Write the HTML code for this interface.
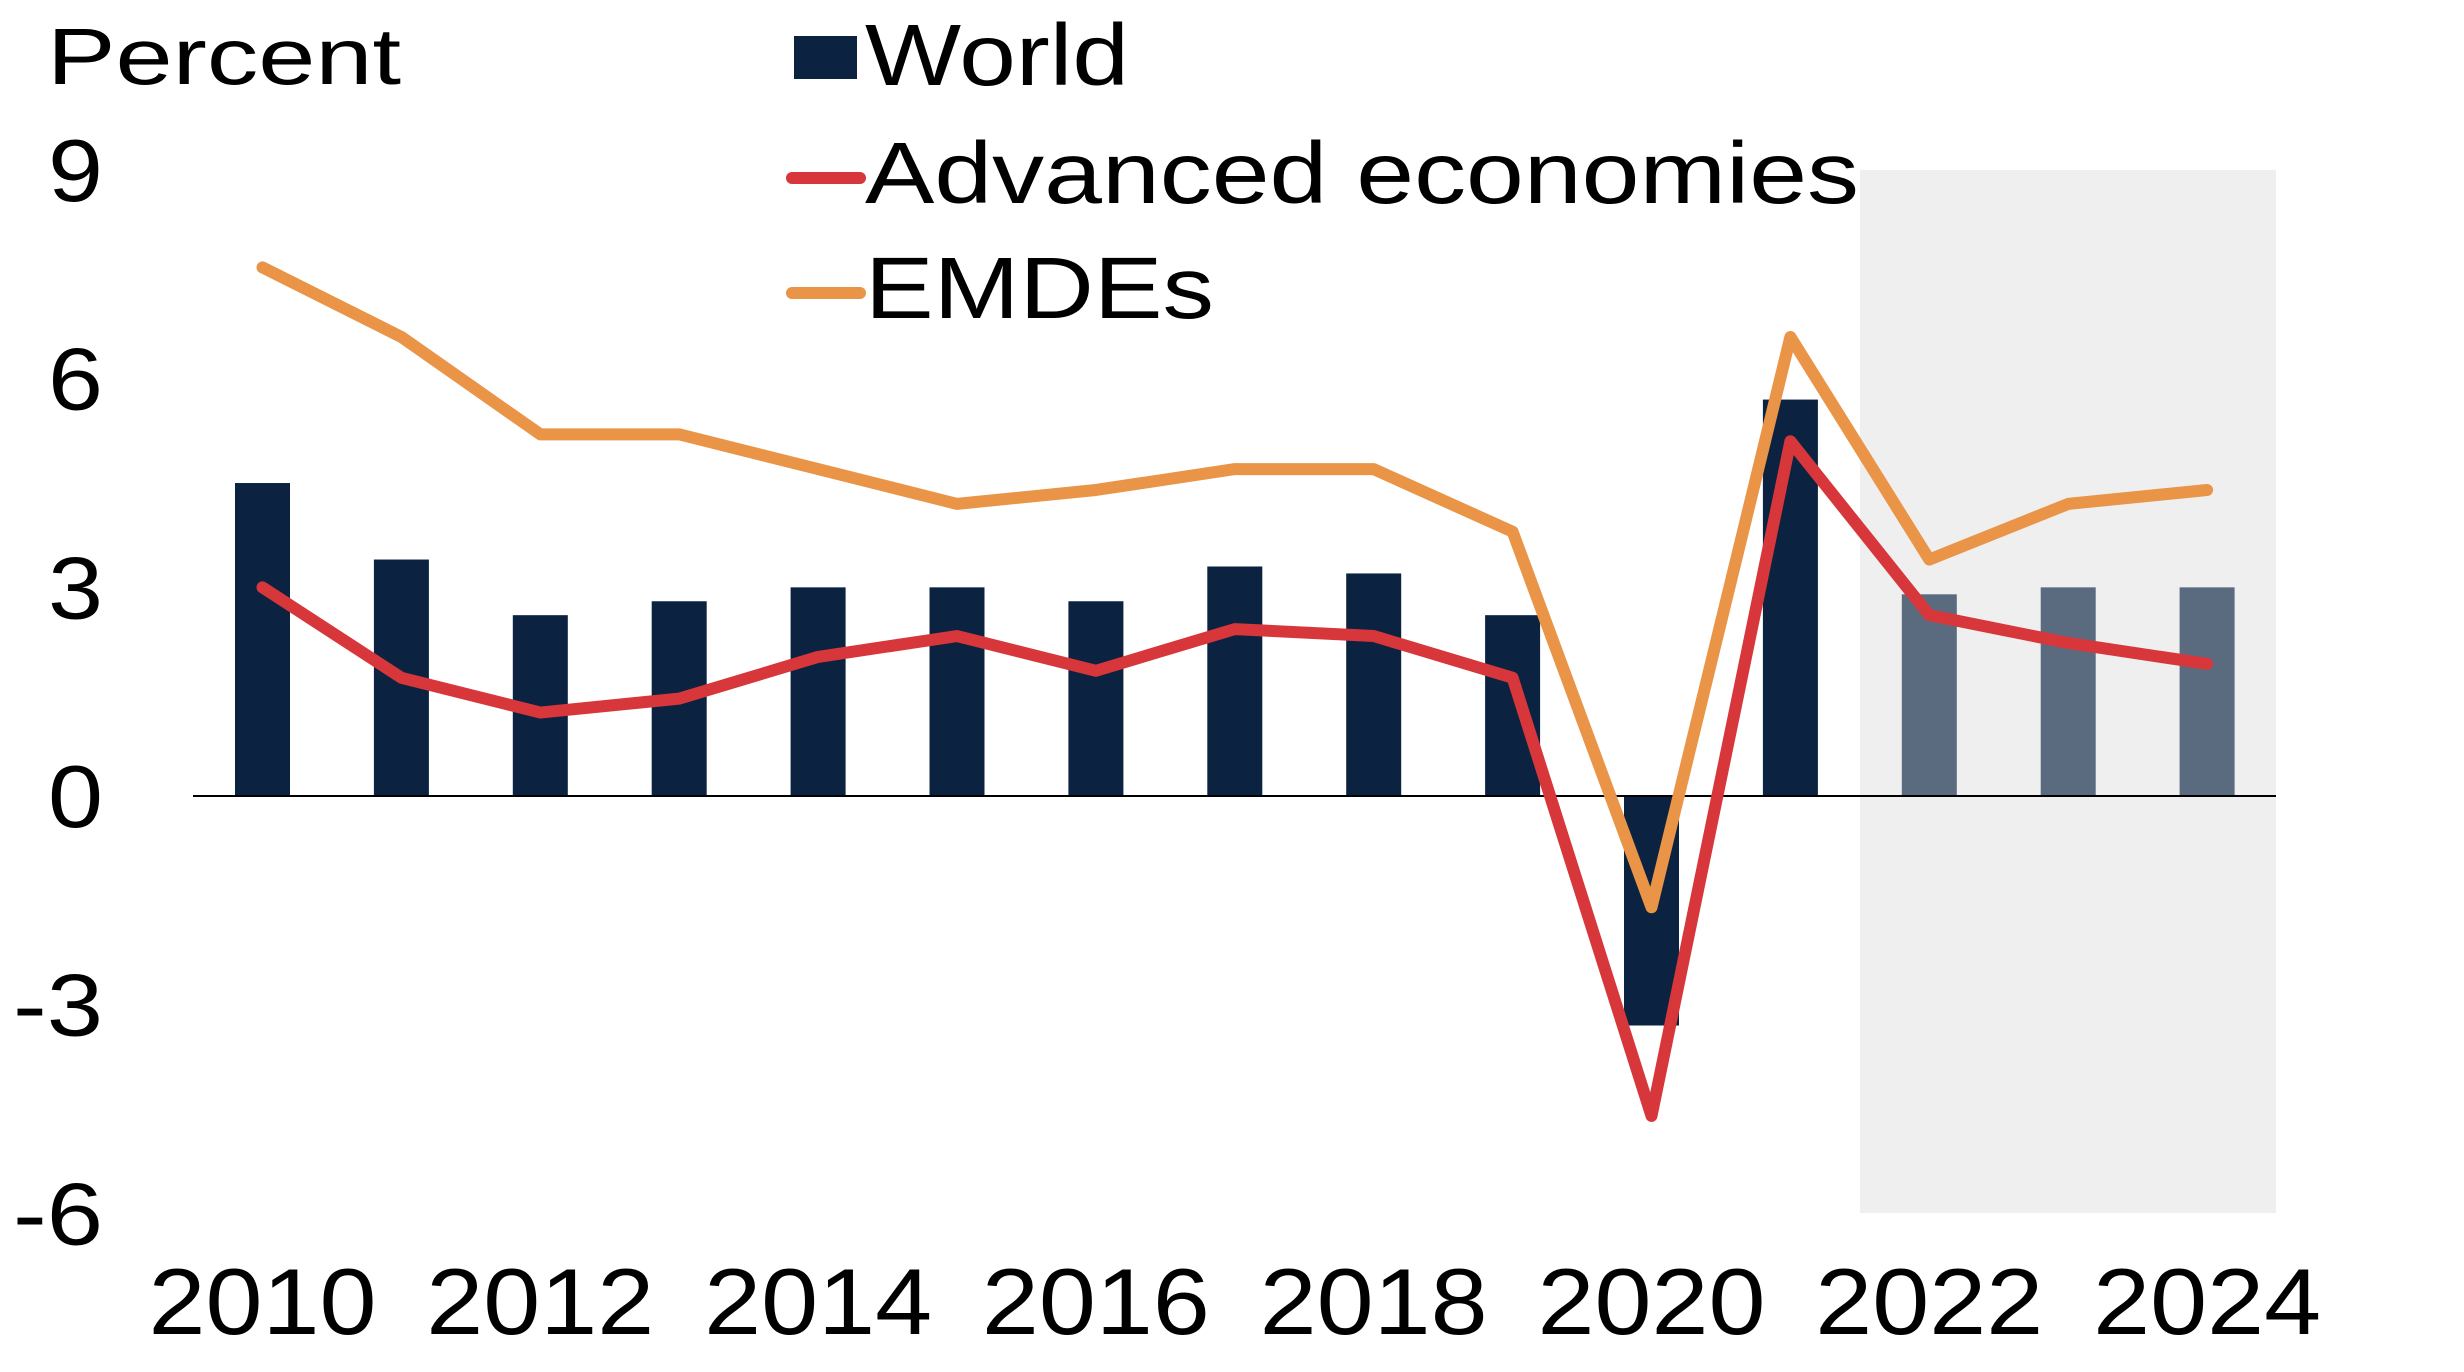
<!DOCTYPE html>
<html><head><meta charset="utf-8"><style>
html,body{margin:0;padding:0;background:#fff;}
svg{display:block;font-family:"Liberation Sans",Arial,sans-serif;}
</style></head><body>
<svg id="chart" width="2464" height="1372" viewBox="0 0 2464 1372" xmlns="http://www.w3.org/2000/svg">
<rect x="1860" y="170" width="416" height="1043" fill="#efefef"/>
<g id="bars"></g>
<line x1="193" x2="2276" y1="796" y2="796" stroke="#000" stroke-width="2"/>
<g id="lines"></g>
<g id="yticks"></g>
<g id="xticks"></g>
<text x="47" y="84" font-size="80" textLength="354" lengthAdjust="spacingAndGlyphs">Percent</text>
<g>
<rect x="794" y="36" width="63" height="43" fill="#0b2341"/>
<text x="865" y="85" font-size="87" textLength="264" lengthAdjust="spacingAndGlyphs">World</text>
<line x1="792" x2="860" y1="178" y2="178" stroke="#d7373a" stroke-width="12" stroke-linecap="round"/>
<text x="865" y="203" font-size="87" textLength="994" lengthAdjust="spacingAndGlyphs">Advanced economies</text>
<line x1="792" x2="860" y1="293" y2="293" stroke="#e99446" stroke-width="12" stroke-linecap="round"/>
<text x="865" y="318" font-size="87" textLength="349" lengthAdjust="spacingAndGlyphs">EMDEs</text>
</g>
</svg>
<script>
const years = [2010,2011,2012,2013,2014,2015,2016,2017,2018,2019,2020,2021,2022,2023,2024];
const world = [4.5,3.4,2.6,2.8,3.0,3.0,2.8,3.3,3.2,2.6,-3.3,5.7,2.9,3.0,3.0];
const advanced = [3.0,1.7,1.2,1.4,2.0,2.3,1.8,2.4,2.3,1.7,-4.6,5.1,2.6,2.2,1.9];
const emdes = [7.6,6.6,5.2,5.2,4.7,4.2,4.4,4.7,4.7,3.8,-1.6,6.6,3.4,4.2,4.4];
const yTicks = [9,6,3,0,-3,-6];
const xTickLabels = ["2010","2012","2014","2016","2018","2020","2022","2024"];
const forecastStart = 2022;

const NS = "http://www.w3.org/2000/svg";
const x = yr => 262.5 + (yr - 2010) * 138.9;
const y = v => 796 - v * 69.55;

const gb = document.getElementById('bars');
world.forEach((v, i) => {
  const r = document.createElementNS(NS, 'rect');
  r.setAttribute('x', x(years[i]) - 27.5);
  r.setAttribute('width', 55);
  r.setAttribute('y', Math.min(y(v), y(0)));
  r.setAttribute('height', Math.abs(y(v) - y(0)));
  r.setAttribute('fill', years[i] >= forecastStart ? '#5a6b80' : '#0b2341');
  
  
  gb.appendChild(r);
});

const gl = document.getElementById('lines');
[[emdes, '#e99446', 'line-emdes'], [advanced, '#d7373a', 'line-advanced']].forEach(([arr, col, nm]) => {
  const p = document.createElementNS(NS, 'polyline');
  p.setAttribute('points', arr.map((v, i) => x(years[i]) + ',' + y(v)).join(' '));
  p.setAttribute('fill', 'none');
  p.setAttribute('stroke', col);
  p.setAttribute('stroke-width', 12);
  p.setAttribute('stroke-linejoin', 'round');
  p.setAttribute('stroke-linecap', 'round');
  
  
  gl.appendChild(p);
});

const gy = document.getElementById('yticks');
yTicks.forEach(t => {
  const tx = document.createElementNS(NS, 'text');
  tx.setAttribute('x', 103);
  tx.setAttribute('y', y(t) + 31);
  tx.setAttribute('text-anchor', 'end');
  tx.setAttribute('font-size', 88);
  tx.setAttribute('textLength', t < 0 ? 90 : 55);
  tx.setAttribute('lengthAdjust', 'spacingAndGlyphs');
  tx.textContent = t;
  
  
  gy.appendChild(tx);
});

const gx = document.getElementById('xticks');
xTickLabels.forEach(l => {
  const tx = document.createElementNS(NS, 'text');
  tx.setAttribute('x', x(+l));
  tx.setAttribute('y', 1334);
  tx.setAttribute('text-anchor', 'middle');
  tx.setAttribute('font-size', 94);
  tx.setAttribute('textLength', 228);
  tx.setAttribute('lengthAdjust', 'spacingAndGlyphs');
  tx.textContent = l;
  
  
  gx.appendChild(tx);
});
</script>
</body></html>
